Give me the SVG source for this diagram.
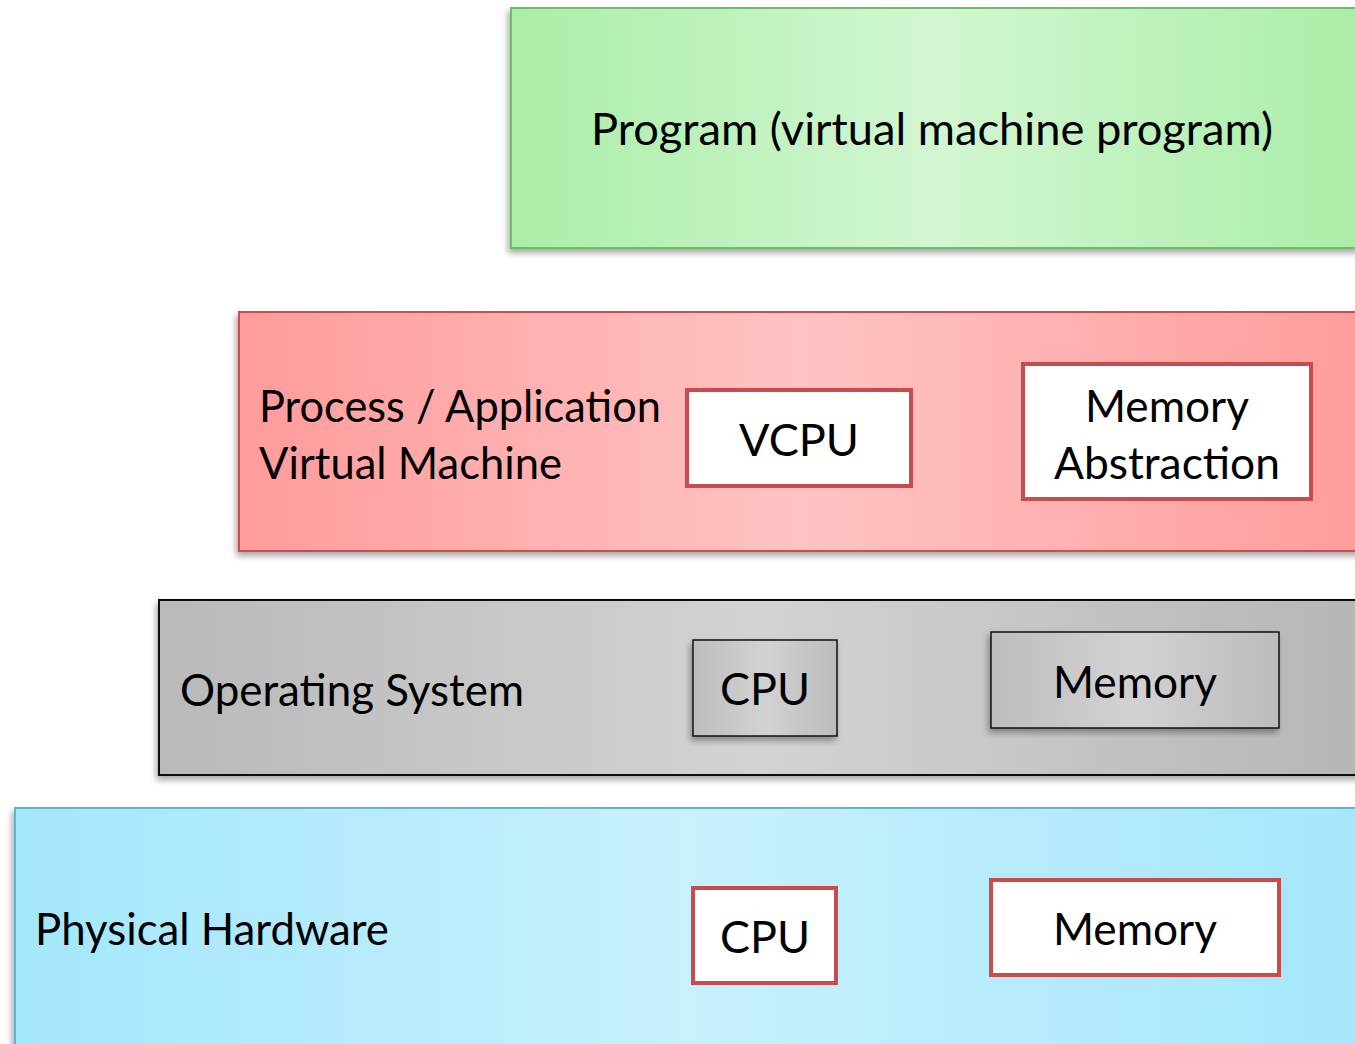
<svg xmlns="http://www.w3.org/2000/svg" width="1355" height="1044" viewBox="0 0 1355 1044">
  <defs>
    <linearGradient id="gGreen" x1="0" y1="0" x2="1" y2="0">
      <stop offset="0" stop-color="#aaeea8"/>
      <stop offset="0.5" stop-color="#d2f6d1"/>
      <stop offset="1" stop-color="#aaeea8"/>
    </linearGradient>
    <linearGradient id="gRed" x1="0" y1="0" x2="1" y2="0">
      <stop offset="0" stop-color="#ff9b9b"/>
      <stop offset="0.5" stop-color="#ffc3c3"/>
      <stop offset="1" stop-color="#ff9c9c"/>
    </linearGradient>
    <linearGradient id="gGray" x1="0" y1="0" x2="1" y2="0">
      <stop offset="0" stop-color="#b9b9b9"/>
      <stop offset="0.5" stop-color="#d3d3d3"/>
      <stop offset="1" stop-color="#b6b6b6"/>
    </linearGradient>
    <linearGradient id="gGraySmall" x1="0" y1="0" x2="1" y2="0">
      <stop offset="0" stop-color="#bdbdbd"/>
      <stop offset="0.5" stop-color="#d2d2d2"/>
      <stop offset="1" stop-color="#bcbcbc"/>
    </linearGradient>
    <linearGradient id="gBlue" x1="0" y1="0" x2="1" y2="0">
      <stop offset="0" stop-color="#a3e7fb"/>
      <stop offset="0.5" stop-color="#c8f0fd"/>
      <stop offset="1" stop-color="#a5e7fb"/>
    </linearGradient>
    <filter id="shadow" x="-5%" y="-5%" width="110%" height="115%">
      <feDropShadow dx="-2" dy="4" stdDeviation="3" flood-color="#000" flood-opacity="0.35"/>
    </filter>
  </defs>
  <style>
    text { font-family: "Lato", "Open Sans", "Liberation Sans", sans-serif; fill: #000; }
    .big { font-size: 44px; }
    .mid { font-size: 44px; text-anchor: middle; }
    .box { fill: #fff; stroke: #c84c4b; stroke-width: 4; }
    .osbox { fill: url(#gGraySmall); stroke: #111; stroke-width: 1.5; }
  </style>

  <rect width="1355" height="1044" fill="#fff"/>

  <g id="program">
    <rect x="511" y="8" width="850" height="240" fill="url(#gGreen)" stroke="#6fbd69" stroke-width="2" filter="url(#shadow)"/>
    <text class="big" x="591" y="145" textLength="682" lengthAdjust="spacingAndGlyphs">Program (virtual machine program)</text>
  </g>

  <g id="process">
    <rect x="239" y="312" width="1122" height="239" fill="url(#gRed)" stroke="#c9504f" stroke-width="2" filter="url(#shadow)"/>
    <text class="big" x="259" y="422" textLength="402" lengthAdjust="spacingAndGlyphs">Process / Application</text>
    <text class="big" x="259" y="479" textLength="303" lengthAdjust="spacingAndGlyphs">Virtual Machine</text>
  </g>

  <g id="vcpu">
    <rect class="box" x="687" y="390" width="224" height="96"/>
    <text class="mid" x="799" y="456" textLength="120" lengthAdjust="spacingAndGlyphs">VCPU</text>
  </g>

  <g id="memory-abstraction">
    <rect class="box" x="1023" y="364" width="288" height="135"/>
    <text class="mid" x="1167" y="422" textLength="164" lengthAdjust="spacingAndGlyphs">Memory</text>
    <text class="mid" x="1167" y="479" textLength="226" lengthAdjust="spacingAndGlyphs">Abstraction</text>
  </g>

  <g id="operating-system">
    <rect x="159" y="600" width="1202" height="175" fill="url(#gGray)" stroke="#111" stroke-width="2" filter="url(#shadow)"/>
    <text class="big" x="180" y="706" textLength="344" lengthAdjust="spacingAndGlyphs">Operating System</text>
  </g>

  <g id="os-cpu">
    <rect class="osbox" x="693" y="640" width="144" height="96" filter="url(#shadow)"/>
    <text class="mid" x="765" y="705" textLength="90" lengthAdjust="spacingAndGlyphs">CPU</text>
  </g>

  <g id="os-memory">
    <rect class="osbox" x="991" y="632" width="288" height="96" filter="url(#shadow)"/>
    <text class="mid" x="1135" y="698" textLength="164" lengthAdjust="spacingAndGlyphs">Memory</text>
  </g>

  <g id="physical-hardware">
    <rect x="15" y="808" width="1346" height="250" fill="url(#gBlue)" stroke="#62b4d0" stroke-width="2" filter="url(#shadow)"/>
    <text class="big" x="35" y="945" textLength="354" lengthAdjust="spacingAndGlyphs">Physical Hardware</text>
  </g>

  <g id="hw-cpu">
    <rect class="box" x="693" y="888" width="143" height="95"/>
    <text class="mid" x="765" y="953" textLength="90" lengthAdjust="spacingAndGlyphs">CPU</text>
  </g>

  <g id="hw-memory">
    <rect class="box" x="991" y="880" width="288" height="95"/>
    <text class="mid" x="1135" y="945" textLength="164" lengthAdjust="spacingAndGlyphs">Memory</text>
  </g>

  <g id="connectors"/>
</svg>
